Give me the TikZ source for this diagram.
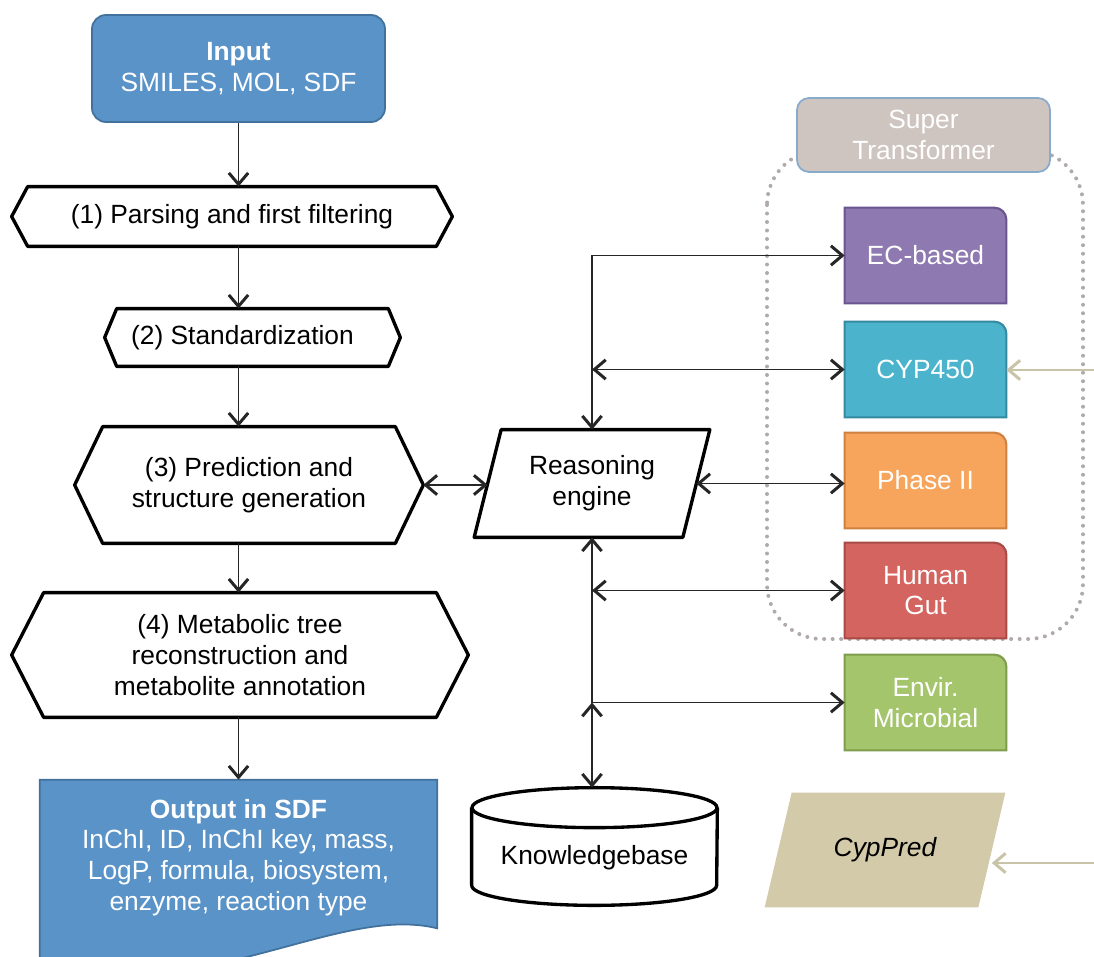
\documentclass[tikz,border=0pt]{standalone}
\usepackage{fontspec}
\setmainfont{Liberation Sans}
\usetikzlibrary{arrows.meta,calc}
\pgfdeclarelayer{background}
\pgfsetlayers{background,main}
\newdimen\pxu \pxu=0.02cm
\definecolor{inblue}{HTML}{5A93C8}
\definecolor{inblueb}{HTML}{41719C}
\definecolor{ecfill}{HTML}{8E79B1}
\definecolor{ecline}{HTML}{6B5590}
\definecolor{cypfill}{HTML}{4BB4CC}
\definecolor{cypline}{HTML}{3589A0}
\definecolor{phfill}{HTML}{F7A45C}
\definecolor{phline}{HTML}{CF8240}
\definecolor{hgfill}{HTML}{D4645F}
\definecolor{hgline}{HTML}{A84A45}
\definecolor{envfill}{HTML}{A5C56C}
\definecolor{envline}{HTML}{7E9C4C}
\definecolor{stfill}{HTML}{CEC5C0}
\definecolor{stline}{HTML}{88AACB}
\definecolor{cpfill}{HTML}{D3CAAA}
\definecolor{beige}{HTML}{C9C3A8}
\definecolor{dotgrey}{HTML}{B0AAAA}
\newcommand\hexo[2]{\draw[outline] (#1.west) -- ([xshift=#2\pxu]#1.north west) -- ([xshift=-#2\pxu]#1.north east) -- (#1.east) -- ([xshift=-#2\pxu]#1.south east) -- ([xshift=#2\pxu]#1.south west) -- cycle;}
\newcommand\rbox[3]{\begin{pgfonlayer}{background}\draw[fill=#2, draw=#3, line width=1.2pt] (#1.south west) -- (#1.north west) -- ([xshift=-12\pxu]#1.north east) arc[start angle=90, end angle=0, radius=12\pxu] -- (#1.south east) -- cycle;\end{pgfonlayer}}
\begin{document}
\begin{tikzpicture}[x=0.02cm, y=-0.02cm,
  >={Straight Barb[length=6.5pt,width=11pt,line width'=1.7pt]},
  txt/.style={font=\fontsize{15}{17.5}\selectfont, align=center, inner sep=0pt},
  ghost/.style 2 args={txt, draw=none, minimum width=#1, minimum height=#2},
  outline/.style={draw=black, line width=1.9pt, line join=round},
  conn/.style={draw=black!85, line width=0.85pt},
  beigearrow/.style={draw=beige, line width=1.1pt, ->},
  colbox/.style={ghost={161\pxu}{95\pxu}, text=white}
]
\useasboundingbox (0,0) rectangle (1094,956);

% dotted group outline
\begin{pgfonlayer}{background}
\draw[dotgrey, line width=4\pxu, dash pattern=on 0pt off 8.5\pxu, line cap=round, rounded corners=55\pxu] (767,150) rectangle (1083,639);
\end{pgfonlayer}

% left column
\node[txt, text=white, fill=inblue, draw=inblueb, line width=1pt, rounded corners=14\pxu, minimum width=293\pxu, minimum height=107\pxu] (in) at (238.5,68.5) {\textbf{Input}\\SMILES, MOL, SDF};

\node[ghost={440\pxu}{59\pxu}] (p1) at (232,216.5) {(1) Parsing and first filtering};
\hexo{p1}{16}
\node[ghost={295\pxu}{57\pxu}] (p2) at (252.5,337.5) {\hspace*{-20\pxu}(2) Standardization};
\hexo{p2}{12}
\node[ghost={348\pxu}{116\pxu}] (p3) at (249,485) {(3) Prediction and\\structure generation};
\hexo{p3}{28}
\node[ghost={456\pxu}{124\pxu}] (p4) at (240,655) {(4) Metabolic tree\\reconstruction and\\metabolite annotation};
\hexo{p4}{32}

\node[ghost={397\pxu}{155\pxu}, text=white] (out) at (238.5,857.5) {\textbf{Output in SDF}\\InChI, ID, InChI key, mass,\\LogP, formula, biosystem,\\enzyme, reaction type};
\begin{pgfonlayer}{background}
\draw[fill=inblue, draw=inblueb, line width=1pt] (out.north west) -- (out.north east) -- ([yshift=7\pxu]out.south east) .. controls +(-100\pxu,25\pxu) and +(160\pxu,-45\pxu) .. ([yshift=-28\pxu]out.south west) -- cycle;
\end{pgfonlayer}

% reasoning engine
\node[ghost={208\pxu}{107\pxu}] (re) at (592,483.5) {Reasoning\\engine};
\draw[outline] ([xshift=-13.5\pxu]re.south west) -- ([xshift=13.5\pxu]re.north west) -- ([xshift=13.5\pxu]re.north east) -- ([xshift=-13.5\pxu]re.south east) -- cycle;

% knowledgebase
\node[ghost={245\pxu}{117\pxu}, text height=24pt, text depth=3pt] (kb) at (594.5,846.5) {Knowledgebase};
\draw[outline] ([yshift=-20\pxu]kb.north) ellipse[x radius=122.5\pxu, y radius=20\pxu];
\draw[outline] ([yshift=-20\pxu]kb.north west) -- ([yshift=20\pxu]kb.south west) arc[start angle=180, end angle=360, x radius=122.5\pxu, y radius=20\pxu] -- ([yshift=-20\pxu]kb.north east);

% super transformer
\node[txt, text=white, fill=stfill, draw=stline, line width=1pt, rounded corners=12\pxu, minimum width=253\pxu, minimum height=74\pxu] (st) at (923.5,135) {Super\\Transformer};

% coloured boxes
\node[colbox] (ec) at (925.5,255.5) {EC-based};
\rbox{ec}{ecfill}{ecline}
\node[colbox] (cyp) at (925.5,369.5) {CYP450};
\rbox{cyp}{cypfill}{cypline}
\node[colbox] (ph2) at (925.5,480.5) {Phase II};
\rbox{ph2}{phfill}{phline}
\node[colbox] (hg) at (925.5,590.5) {Human\\Gut};
\rbox{hg}{hgfill}{hgline}
\node[colbox] (env) at (925.5,702.5) {Envir.\\Microbial};
\rbox{env}{envfill}{envline}

% CypPred
\node[ghost={213\pxu}{114\pxu}, font=\fontsize{15}{17.5}\selectfont\itshape] (cp) at (885,850) {CypPred};
\begin{pgfonlayer}{background}
\fill[cpfill] ([xshift=-13.5\pxu]cp.south west) -- ([xshift=13.5\pxu]cp.north west) -- ([xshift=13.5\pxu]cp.north east) -- ([xshift=-13.5\pxu]cp.south east) -- cycle;
\end{pgfonlayer}

% main flow connectors
\draw[conn, ->] (in.south) -- (in.south |- p1.north);
\draw[conn, ->] (p1.south -| in.south) -- (in.south |- p2.north);
\draw[conn, ->] (p2.south -| in.south) -- (in.south |- p3.north);
\draw[conn, ->] (p3.south -| in.south) -- (in.south |- p4.north);
\draw[conn, ->] (p4.south -| out.north) -- (out.north);

% reasoning connectors
\draw[conn, <->] (p3.east) -- (p3.east -| re.west);
\draw[conn, <->] (re.north) |- (ec.west);
\coordinate (jc) at (re.north |- cyp.west);
\draw[conn, <->] (jc) -- (cyp.west);
\draw[conn, <->] (re.east) -- (re.east -| ph2.west);
\coordinate (jh) at (re.south |- hg.west);
\draw[conn, <->] (jh) -- (hg.west);
\draw[conn, <->] (re.south) |- (env.west);
\coordinate (jk) at (re.south |- env.west);
\draw[conn, <->] (jk) -- (jk |- kb.north);

% incoming beige arrows
\coordinate (cypsrc) at (1094,370);
\draw[beigearrow] (cypsrc) -- (cypsrc -| cyp.east);
\coordinate (cpsrc) at (1094,863);
\draw[beigearrow] (cpsrc) -- (cpsrc -| cp.east);
\end{tikzpicture}
\end{document}
